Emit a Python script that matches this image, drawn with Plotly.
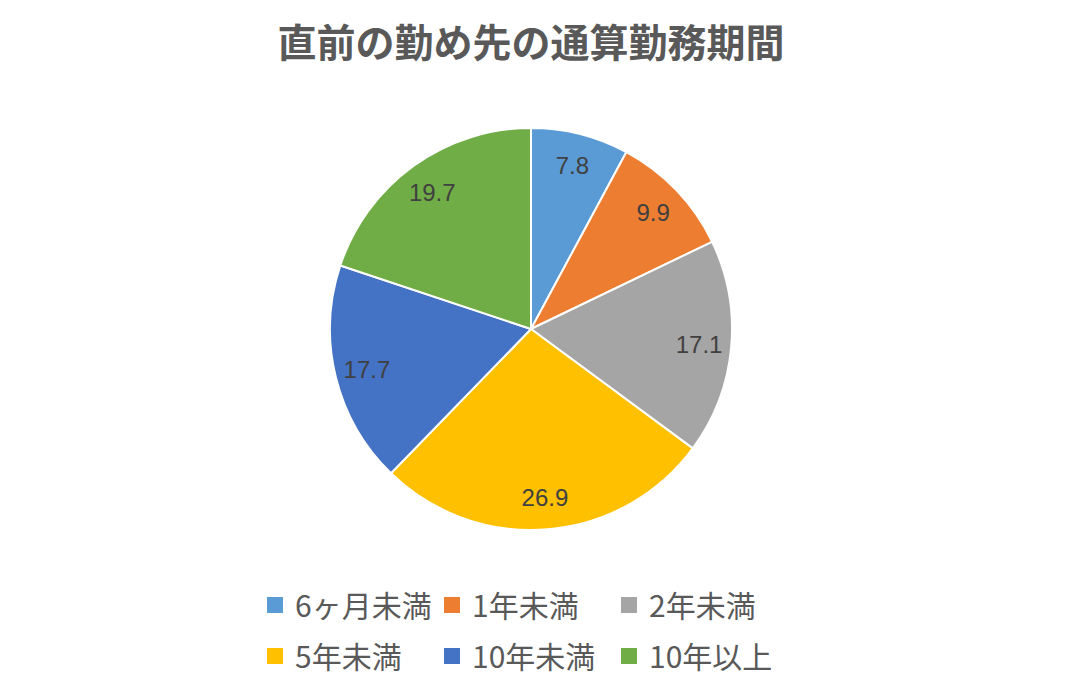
#!/usr/bin/env python3
"""Pie chart: 直前の勤め先の通算勤務期間 (share in %, Excel style)."""

import plotly.graph_objects as go

# ─────────────────────────── data ────────────────────────────────────────────
labels = ["6ヶ月未満", "1年未満", "2年未満", "5年未満", "10年未満", "10年以上"]
values = [7.8, 9.9, 17.1, 26.9, 17.7, 19.7]
colours = ["#5B9BD5", "#ED7D31", "#A5A5A5", "#FFC000", "#4472C4", "#70AD47"]

TITLE = "直前の勤め先の通算勤務期間"
JP_FONT = "Noto Sans CJK JP"

# ─────────────────────────── figure ──────────────────────────────────────────
fig = go.Figure()

# filled pie with white slice borders
fig.add_trace(go.Pie(
    labels=labels, values=values, sort=False, direction="clockwise",
    marker=dict(colors=colours, line=dict(color="white", width=2)),
    textinfo="none", showlegend=False,
    hovertemplate="%{label}: %{value}<extra></extra>",
))

# transparent ring on top, only used to place the value labels near the rim
fig.add_trace(go.Pie(
    labels=labels, values=values, sort=False, direction="clockwise",
    hole=0.68,
    marker=dict(colors=["rgba(0,0,0,0)"] * len(values), line=dict(width=0)),
    textinfo="value", textposition="inside", insidetextorientation="horizontal",
    insidetextfont=dict(family="Liberation Sans", size=24, color="#404040"),
    showlegend=False, hoverinfo="skip",
))

# legend entries: two rows of three
for i, (lab, col) in enumerate(zip(labels, colours)):
    fig.add_trace(go.Scatter(
        x=[None], y=[None], mode="markers",
        marker=dict(symbol="square", size=16, color=col),
        name=lab, legend="legend" if i < 3 else "legend2",
        hoverinfo="skip",
    ))

legend_style = dict(
    orientation="h", xref="container", yref="container",
    xanchor="left", yanchor="middle", x=255 / 1067,
    entrywidth=132, bgcolor="rgba(0,0,0,0)",
    font=dict(family=JP_FONT, size=30, color="#595959"),
)

fig.update_layout(
    width=1067, height=685,
    paper_bgcolor="white", plot_bgcolor="white",
    margin=dict(l=251, r=256, t=128, b=155),
    title=dict(text=f"<b>{TITLE}</b>", x=0.4977, xanchor="center",
               y=1 - 43 / 685, yanchor="middle",
               font=dict(family=JP_FONT, size=39, color="#595959")),
    xaxis=dict(visible=False), yaxis=dict(visible=False),
    legend=dict(legend_style, y=1 - 605 / 685),
    legend2=dict(legend_style, y=1 - 656 / 685),
)

# drop the browser's default body margin so the figure sits at (0, 0)
fig.write_html("out.html", config={"displayModeBar": False},
               post_script="document.body.style.margin='0';")
